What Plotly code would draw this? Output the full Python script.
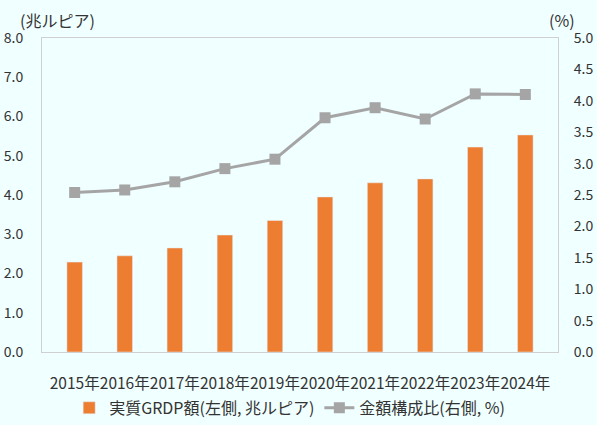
import plotly.graph_objects as go

years = ['2015年', '2016年', '2017年', '2018年', '2019年',
         '2020年', '2021年', '2022年', '2023年', '2024年']
grdp = [2.29, 2.45, 2.65, 2.98, 3.35, 3.95, 4.31, 4.41, 5.22, 5.53]
share = [2.54, 2.58, 2.71, 2.92, 3.07, 3.73, 3.89, 3.71, 4.11, 4.10]

font_jp = 'Noto Sans CJK JP, Meiryo, sans-serif'
txt = '#333333'

fig = go.Figure()
fig.add_trace(go.Bar(
    x=years, y=grdp, name='実質GRDP額(左側, 兆ルピア)',
    marker=dict(color='#ED7D31'),
    yaxis='y'
))
fig.add_trace(go.Scatter(
    x=years, y=share, name='金額構成比(右側, %)',
    mode='lines+markers',
    line=dict(color='#A5A5A5', width=3),
    marker=dict(symbol='square', size=11, color='#A5A5A5'),
    yaxis='y2'
))

fig.update_layout(
    width=597, height=425,
    paper_bgcolor='#F0FFFF', plot_bgcolor='#F0FFFF',
    margin=dict(l=42, r=39, t=38, b=73, autoexpand=False),
    font=dict(family=font_jp, size=14, color=txt),
    bargap=0.69,
    showlegend=True,
    legend=dict(orientation='h', x=0.48, xanchor='center', y=-0.178, yanchor='middle',
                font=dict(size=16, color=txt), bgcolor='rgba(0,0,0,0)',
                itemwidth=30, traceorder='normal'),
    xaxis=dict(showgrid=False, showline=True, linecolor='#D0D0D0', mirror=True,
               ticks='', ticklabelstandoff=17, tickangle=0,
               automargin=False, tickfont=dict(size=15.5, color=txt)),
    yaxis=dict(range=[0, 8], dtick=1, tickformat='.1f', showgrid=False,
               showline=True, linecolor='#D0D0D0', zeroline=False,
               ticks='', ticklabelstandoff=15,
               automargin=False, tickfont=dict(size=14, color=txt)),
    yaxis2=dict(range=[0, 5], dtick=0.5, tickformat='.1f', overlaying='y', side='right',
                showgrid=False, showline=True, linecolor='#D0D0D0', zeroline=False,
                ticks='', ticklabelstandoff=12,
                automargin=False, tickfont=dict(size=14, color=txt)),
    annotations=[
        dict(text='(兆ルピア)', xref='paper', yref='paper', x=-0.0465, y=1.057,
             xanchor='left', yanchor='middle', showarrow=False,
             font=dict(size=16, color=txt)),
        dict(text='(%)', xref='paper', yref='paper', x=1.0078, y=1.057,
             xanchor='center', yanchor='middle', showarrow=False,
             font=dict(size=16, color=txt)),
    ]
)

# drop the default body margin so the figure fills the window
fig.write_html('out.html', config={'displayModeBar': False},
               post_script="document.body.style.margin='0px';")
